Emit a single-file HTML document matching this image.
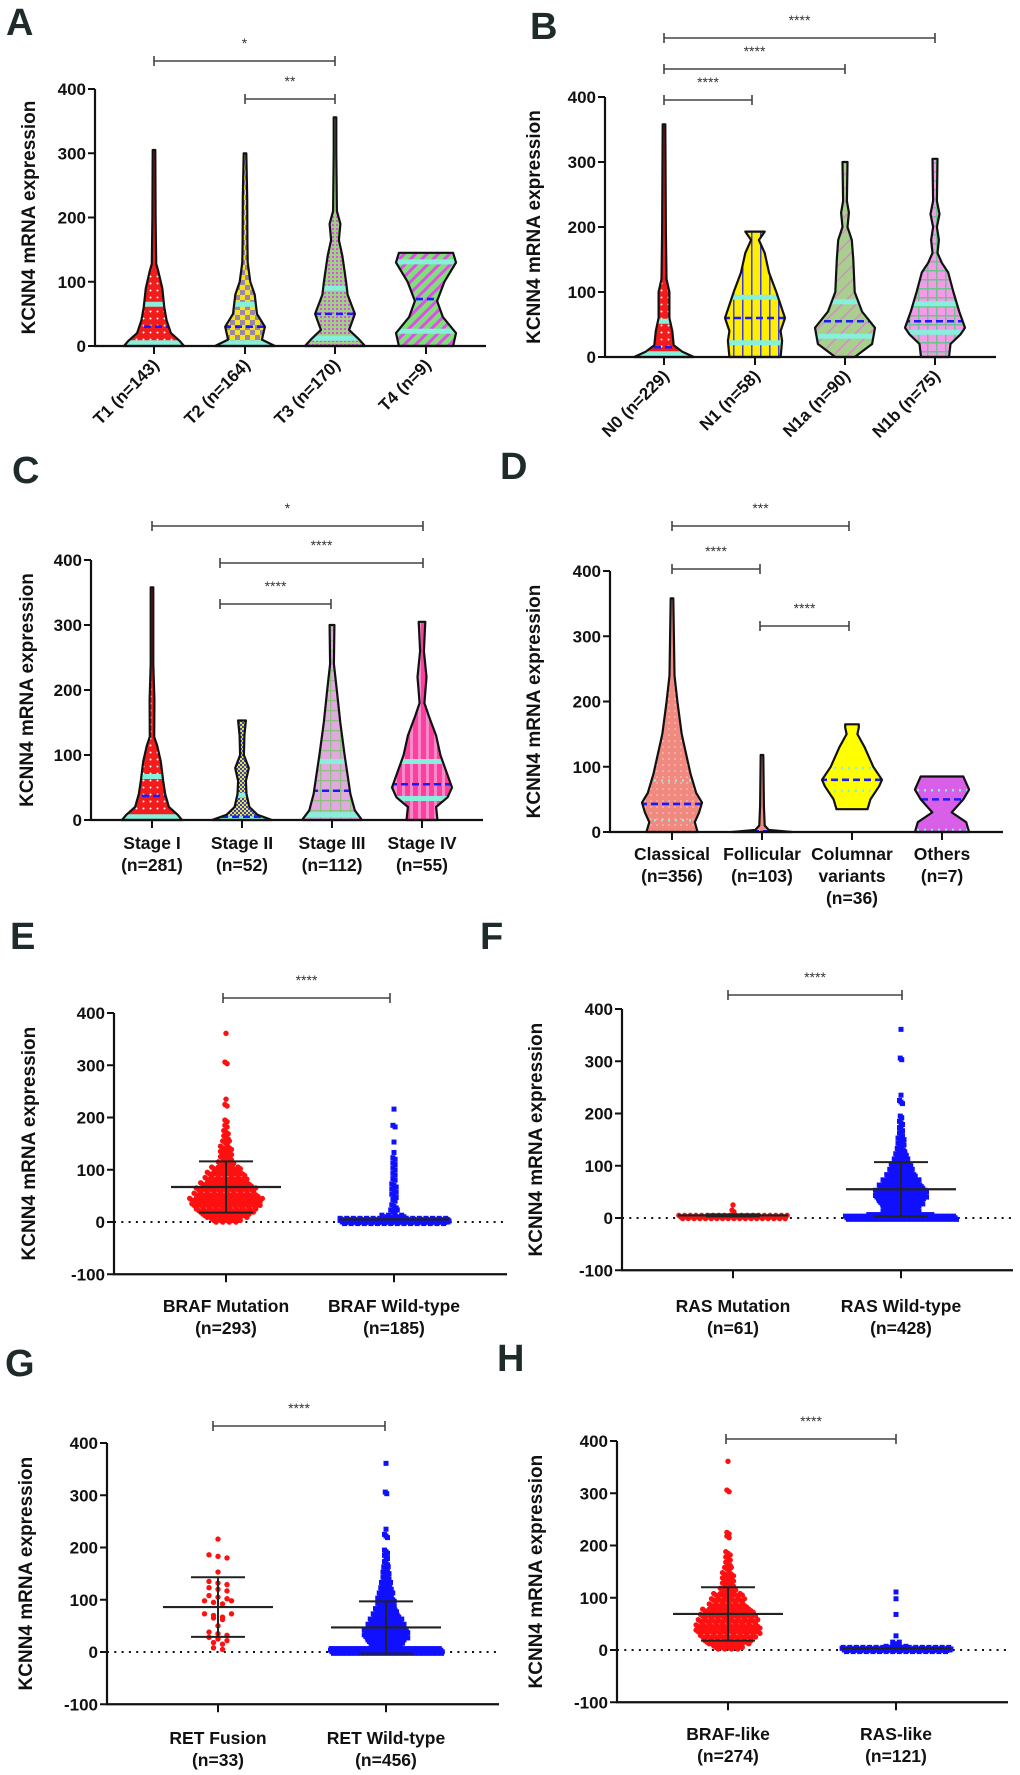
<!DOCTYPE html>
<html><head><meta charset="utf-8">
<style>
html,body{margin:0;padding:0;background:#fff;}
svg{display:block;font-family:"Liberation Sans",Arial,sans-serif;}
</style></head>
<body>
<svg id="fig" width="1020" height="1775" viewBox="0 0 1020 1775" xmlns="http://www.w3.org/2000/svg">
<defs>
<pattern id="pRedDots" width="7" height="7" patternUnits="userSpaceOnUse"><rect width="7" height="7" fill="#f21c1c"/><circle cx="3.5" cy="3.5" r="1" fill="#fff"/></pattern>
<pattern id="pYelCheck" width="10" height="10" patternUnits="userSpaceOnUse"><rect width="10" height="10" fill="#f4e21a"/><rect width="5" height="5" fill="#9b86a8"/><rect x="5" y="5" width="5" height="5" fill="#9b86a8"/></pattern>
<pattern id="pGreenMag" width="4" height="4" patternUnits="userSpaceOnUse"><rect width="4" height="4" fill="#9fd184"/><rect width="2" height="2" fill="#e04ee8"/></pattern>
<pattern id="pDiagGM" width="8" height="8" patternUnits="userSpaceOnUse" patternTransform="rotate(45)"><rect width="8" height="8" fill="#7fe07a"/><rect width="3" height="8" fill="#e04ee8"/></pattern>
<pattern id="pYelBlue" width="9" height="9" patternUnits="userSpaceOnUse"><rect width="9" height="9" fill="#ffee00"/><rect x="4" width="1.5" height="9" fill="#3b3be0"/></pattern>
<pattern id="pGreenDiag" width="10" height="10" patternUnits="userSpaceOnUse" patternTransform="rotate(45)"><rect width="10" height="10" fill="#a9cf8e"/><rect width="1.2" height="10" fill="#e27ad8"/></pattern>
<pattern id="pPinkGrid" width="9" height="9" patternUnits="userSpaceOnUse"><rect width="9" height="9" fill="#f39ae8"/><rect width="9" height="1.5" fill="#6cc38c"/><rect width="1.5" height="9" fill="#6cc38c"/></pattern>
<pattern id="pBlueYel" width="4" height="4" patternUnits="userSpaceOnUse"><rect width="4" height="4" fill="#f0e030"/><rect width="2" height="2" fill="#3040d0"/><rect x="2" y="2" width="2" height="2" fill="#3040d0"/></pattern>
<pattern id="pLilacGrid" width="10" height="10" patternUnits="userSpaceOnUse"><rect width="10" height="10" fill="#e2a8e0"/><rect width="10" height="1.3" fill="#8fbf80"/><rect width="1.3" height="10" fill="#8fbf80"/></pattern>
<pattern id="pMagV" width="8" height="8" patternUnits="userSpaceOnUse"><rect width="8" height="8" fill="#ff3fa0"/><rect x="2" width="3" height="8" fill="#f58ac8"/></pattern>
<pattern id="pSalmon" width="6" height="6" patternUnits="userSpaceOnUse"><rect width="6" height="6" fill="#f08a80"/><circle cx="3" cy="3" r="0.8" fill="#ffd0c8"/></pattern>
</defs>
</svg>
<script>
// ---------- Violin data ----------
const catsA = ["T1 (n=143)","T2 (n=164)","T3 (n=170)","T4 (n=9)"];
const profA1 = [[0,1],[8,0.85],[20,0.55],[40,0.4],[60,0.32],[90,0.25],[115,0.12],[128,0.04],[200,0.02],[305,0.01]];
const profA2 = [[0,1],[10,0.55],[30,0.65],[50,0.38],[80,0.3],[100,0.15],[130,0.06],[160,0.05],[230,0.04],[300,0.01]];
const profA3 = [[0,1],[10,0.8],[25,0.45],[50,0.65],[80,0.4],[100,0.35],[140,0.22],[165,0.1],[190,0.15],[210,0.03],[300,0.01],[356,0.01]];
const profA4 = [[0,0.9],[20,1],[45,0.55],[70,0.35],[100,0.6],[130,1],[145,0.9]];
const medA = [30,30,50,73];
const q1A = [5,5,12,23];
const q3A = [65,65,90,131];

const catsB = ["N0 (n=229)","N1 (n=58)","N1a (n=90)","N1b (n=75)"];
const profB1 = [[0,1],[8,0.6],[18,0.3],[40,0.25],[60,0.15],[100,0.15],[120,0.05],[190,0.03],[358,0.01]];
const profB2 = [[0,0.85],[25,0.9],[40,0.85],[60,1],[100,0.7],[130,0.45],[160,0.3],[180,0.1],[193,0.3]];
const profB3 = [[0,0.3],[20,0.9],[45,1],[70,0.55],[100,0.3],[150,0.25],[180,0.2],[200,0.05],[222,0.1],[240,0.03],[300,0.05]];
const profB4 = [[0,0.45],[20,0.5],[35,0.85],[45,1],[70,0.8],[100,0.6],[130,0.42],[145,0.2],[160,0.05],[180,0.1],[200,0.03],[220,0.12],[240,0.03],[305,0.05]];
const medB = [15,60,55,55];
const q1B = [5,22,32,38];
const q3B = [55,92,85,82];

const catsC = [["Stage I","(n=281)"],["Stage II","(n=52)"],["Stage III","(n=112)"],["Stage IV","(n=55)"]];
const profC1 = [[0,1],[8,0.85],[20,0.55],[40,0.42],[60,0.35],[90,0.27],[115,0.14],[128,0.04],[185,0.05],[240,0.01],[358,0.01]];
const profC2 = [[0,1],[8,0.5],[20,0.22],[40,0.12],[60,0.1],[80,0.2],[100,0.03],[130,0.05],[153,0.1]];
const profC3 = [[0,1],[15,0.75],[40,0.6],[70,0.5],[100,0.4],[150,0.25],[200,0.13],[240,0.03],[300,0.05]];
const profC4 = [[0,0.5],[20,0.45],[35,0.85],[50,1],[75,0.8],[100,0.6],[130,0.45],[160,0.2],[180,0.05],[220,0.12],[260,0.03],[305,0.08]];
const medC = [37,5,45,55];
const q1C = [5,2,8,33];
const q3C = [67,38,90,90];

const catsD = [["Classical","(n=356)"],["Follicular","(n=103)"],["Columnar","variants","(n=36)"],["Others","(n=7)"]];
const profD1 = [[0,0.85],[15,0.75],[30,0.9],[45,1],[60,0.8],[90,0.6],[110,0.5],[150,0.3],[200,0.15],[240,0.05],[300,0.03],[358,0.01]];
const profD2 = [[0,1],[3,0.2],[10,0.06],[40,0.03],[118,0.01]];
const profD3 = [[35,0.5],[50,0.6],[70,0.9],[80,1],[100,0.7],[130,0.4],[150,0.15],[160,0.2],[165,0.2]];
const profD4 = [[0,0.9],[15,0.8],[30,0.3],[50,0.7],[65,0.9],[85,0.7]];
const medD = [43,1,80,50];
const q1D = [18,0.5,63,3];
const q3D = [79,2,98,64];

// ---------- Scatter data: [bin value, count] ----------
const eMut = [[3,14],[12,22],[22,28],[32,32],[42,34],[52,30],[62,28],[72,24],[82,20],[92,18],[102,14],[112,8],[122,6],[132,6],[142,6],[152,4],[162,3],[172,3],[182,2],[192,2],[222,2],[232,1],[303,2],[358,1]];
const eWt = [[2,150],[10,12],[20,4],[30,3],[40,2],[50,3],[60,3],[70,3],[80,2],[90,2],[100,2],[110,2],[120,2],[130,1],[150,1],[182,2],[213,1]];
const eMean = [67,5]; const eSd = [49,0];
const fMut = [[2,58],[12,2],[22,1]];
const fWt = [[2,120],[10,25],[20,25],[30,30],[40,35],[50,35],[60,30],[70,25],[80,20],[90,16],[100,14],[110,10],[120,8],[130,6],[140,5],[150,5],[160,3],[170,3],[182,3],[192,2],[222,3],[232,1],[303,2],[358,1]];
const fMean = [5,55]; const fSd = [2,52];
const gFus = [[5,2],[15,2],[25,3],[35,3],[47,1],[62,2],[70,4],[95,4],[105,3],[120,3],[132,3],[150,1],[183,3],[213,1]];
const gWt = [[2,150],[10,20],[20,25],[30,30],[40,30],[50,25],[60,22],[70,18],[80,15],[90,12],[100,12],[110,10],[120,8],[130,7],[140,5],[150,5],[160,4],[170,3],[182,3],[192,3],[222,3],[232,1],[303,2],[358,1]];
const gMean = [86,47]; const gSd = [57,50];
const hBraf = [[5,14],[15,22],[25,26],[35,30],[45,30],[55,28],[65,26],[75,24],[85,18],[95,16],[105,14],[115,8],[125,6],[135,6],[145,6],[155,4],[165,3],[175,3],[185,3],[215,2],[222,2],[303,2],[358,1]];
const hRas = [[2,110],[12,4],[24,1],[65,1],[95,1],[108,1]];
const hMean = [69,3]; const hSd = [51,0];

const NS = "http://www.w3.org/2000/svg";
const svg = document.getElementById('fig');
function el(tag, attrs, parent){ const e=document.createElementNS(NS,tag); for(const k in attrs) e.setAttribute(k,attrs[k]); (parent||svg).appendChild(e); return e; }
function txt(s, attrs, parent){ const e=el('text',attrs,parent); e.textContent=s; return e; }

function panelLetter(L,x,y){
  const t=txt(L,{x:x,y:y,'font-size':38,'font-weight':'bold',fill:'#1f2b2b'});
  
  
}

function axes(g, ax, y0, ytop, right, ticks, scale, cxs, name){
  const yl=el('line',{x1:ax,y1:scale(ticks[ticks.length-1]),x2:ax,y2:scale(ticks[0]),stroke:'#111','stroke-width':2.2},g);
  
  
  const xl=el('line',{x1:ax-1,y1:scale(ticks[0]),x2:right,y2:scale(ticks[0]),stroke:'#111','stroke-width':2.2},g);
  
  
  ticks.forEach(v=>{
    el('line',{x1:ax-7,y1:scale(v),x2:ax,y2:scale(v),stroke:'#111','stroke-width':2},g);
    const t=txt(String(v),{x:ax-9,y:scale(v)+6,'text-anchor':'end','font-size':17,'font-weight':'bold',fill:'#111'},g);
    
    
  });
  cxs.forEach(cx=>el('line',{x1:cx,y1:scale(ticks[0]),x2:cx,y2:scale(ticks[0])+8,stroke:'#111','stroke-width':2},g));
}
function yTitle(g,x,yc,name){
  const t=txt('KCNN4 mRNA expression',{transform:`translate(${x},${yc}) rotate(-90)`,'text-anchor':'middle','font-size':19,'font-weight':'bold',fill:'#111'},g);
  
  
}
function bracket(g,x1,x2,y,stars,name){
  const p=el('path',{d:`M${x1},${y-5}V${y+5}M${x1},${y}H${x2}M${x2},${y-5}V${y+5}`,stroke:'#444','stroke-width':1.6,fill:'none'},g);
  
  
  const t=txt(stars,{x:(x1+x2)/2,y:y-13,'text-anchor':'middle','font-size':14,fill:'#333'},g);
  
  
}
let clipN=0;
function violin(g,cx,prof,maxW,scale,fill,med,q1,q3,dotted,name){
  const right=prof.map(p=>[cx+p[1]*maxW+1, scale(p[0])]);
  const left=prof.slice().reverse().map(p=>[cx-p[1]*maxW-1, scale(p[0])]);
  const pts=right.concat(left);
  const d='M'+pts.map(p=>p[0].toFixed(1)+','+p[1].toFixed(1)).join('L')+'Z';
  const id='vc'+(clipN++);
  const cp=el('clipPath',{id:id},g); el('path',{d:d},cp);
  const body=el('path',{d:d,fill:fill},g);
  
  
  const cg=el('g',{'clip-path':`url(#${id})`},g);
  const cyanAttr=dotted?{stroke:'#7ff2e6','stroke-width':2.5,'stroke-dasharray':'2,5'}:{stroke:'#86f0dc','stroke-width':5};
  [q1,q3].forEach(v=>{const l=el('line',Object.assign({x1:cx-maxW-3,x2:cx+maxW+3,y1:scale(v),y2:scale(v)},cyanAttr),cg);
    
    });
  const m=el('line',{x1:cx-maxW-3,x2:cx+maxW+3,y1:scale(med),y2:scale(med),stroke:'#1a1aff','stroke-width':2.6,'stroke-dasharray':'7,4'},cg);
  
  
  el('path',{d:d,fill:'none',stroke:'#111','stroke-width':2.2,'stroke-linejoin':'round'},g);
}
function swarm(g,cx,bins,scale,spacing,maxPer,color,square,name){
  bins.forEach(b=>{
    const v=b[0], n=b[1];
    const rows=Math.max(1,Math.ceil(n/maxPer));
    let k=0;
    for(let r=0;r<rows;r++){
      const inRow=Math.min(maxPer, n-k);
      const yv=v+(rows>1?(r-(rows-1)/2)*(6/rows):0);
      for(let i=0;i<inRow;i++){
        const off=(i-(inRow-1)/2)*spacing + (r%2?spacing/2:0);
        const x=cx+off, y=scale(yv)+((i%3)-1)*1.6;
        let m;
        if(square) m=el('rect',{x:x-2.5,y:y-2.5,width:5,height:5,fill:color},g);
        else m=el('circle',{cx:x,cy:y,r:2.7,fill:color},g);
        
        
        k++;
      }
    }
  });
}
function meanSd(g,cx,mean,sd,scale,name){
  const l=el('line',{x1:cx-55,x2:cx+55,y1:scale(mean),y2:scale(mean),stroke:'#222','stroke-width':2.2},g);
  
  
  if(sd>0){
    const p=el('path',{d:`M${cx-27},${scale(mean+sd)}H${cx+27}M${cx},${scale(mean+sd)}V${scale(mean-sd)}M${cx-27},${scale(mean-sd)}H${cx+27}`,stroke:'#222','stroke-width':2,fill:'none'},g);
    
    
  }
}

function violinPanel(cfg){
  const g=el('g',{});  
  const sc=v=>cfg.y0-v*(cfg.y0-cfg.ytop)/400;
  yTitle(g,cfg.titleX,(cfg.y0+cfg.ytop)/2,cfg.name);
  cfg.profs.forEach((p,i)=>violin(g,cfg.cx[i],p,29,sc,cfg.fills[i],cfg.med[i],cfg.q1[i],cfg.q3[i],cfg.dotted,cfg.name+'-violin-'+(i+1)));
  axes(g,cfg.ax,cfg.y0,cfg.ytop,cfg.right,[0,100,200,300,400],sc,cfg.cx,cfg.name);
  cfg.cats.forEach((c,i)=>{
    if(cfg.rotate){
      const t=txt(c,{transform:`translate(${cfg.cx[i]+6},${cfg.y0+20}) rotate(-45)`,'text-anchor':'end','font-size':17,'font-weight':'bold',fill:'#111'},g);
      
      
    } else {
      c.forEach((line,j)=>{
        const t=txt(line,{x:cfg.cx[i],y:cfg.labY+j*22,'text-anchor':'middle','font-size':17.5,'font-weight':'bold',fill:'#111'},g);
        
        
      });
    }
  });
  cfg.brackets.forEach(b=>bracket(g,b[0],b[1],b[2],b[3],cfg.name));
}

function scatterPanel(cfg){
  const g=el('g',{});  
  const sc=v=>cfg.y0-v*(cfg.y0-cfg.ytop)/400;
  yTitle(g,cfg.titleX,(sc(-100)+cfg.ytop)/2,cfg.name);
  const dl=el('line',{x1:cfg.ax,x2:cfg.right,y1:sc(0),y2:sc(0),stroke:'#111','stroke-width':2,'stroke-dasharray':'2,5.3'},g);
  
  
  swarm(g,cfg.cx[0],cfg.g1,sc,cfg.sp[0],cfg.mp[0],'#ff1010',false,cfg.name+'-group1');
  swarm(g,cfg.cx[1],cfg.g2,sc,cfg.sp[1],cfg.mp[1],'#1010ff',true,cfg.name+'-group2');
  cfg.means.forEach((m,i)=>meanSd(g,cfg.cx[i],m,cfg.sds[i],sc,cfg.name+'-group'+(i+1)));
  axes(g,cfg.ax,cfg.y0,cfg.ytop,cfg.right,[-100,0,100,200,300,400],sc,cfg.cx,cfg.name);
  cfg.cats.forEach((c,i)=>c.forEach((line,j)=>{
    const t=txt(line,{x:cfg.cx[i],y:cfg.labY+j*22,'text-anchor':'middle','font-size':17.5,'font-weight':'bold',fill:'#111'},g);
    
    
  }));
  bracket(g,cfg.br[0],cfg.br[1],cfg.br[2],'****',cfg.name);
}

panelLetter('A',6,35); panelLetter('B',530,39); panelLetter('C',12,483); panelLetter('D',500,479);
panelLetter('E',10,949); panelLetter('F',480,949); panelLetter('G',5,1376); panelLetter('H',497,1371);

violinPanel({name:'panel-a',ax:95,y0:346,ytop:89,right:486,cx:[154,245,335,426],titleX:35,
  profs:[profA1,profA2,profA3,profA4],fills:['url(#pRedDots)','url(#pYelCheck)','url(#pGreenMag)','url(#pDiagGM)'],
  med:medA,q1:q1A,q3:q3A,cats:catsA,rotate:true,
  brackets:[[154,335,61,'*'],[245,335,99,'**']]});
violinPanel({name:'panel-b',ax:605,y0:357,ytop:97,right:996,cx:[664,755,845,935],titleX:540,
  profs:[profB1,profB2,profB3,profB4],fills:['url(#pRedDots)','url(#pYelBlue)','url(#pGreenDiag)','url(#pPinkGrid)'],
  med:medB,q1:q1B,q3:q3B,cats:catsB,rotate:true,
  brackets:[[664,935,38,'****'],[664,845,69,'****'],[664,752,100,'****']]});
violinPanel({name:'panel-c',ax:91,y0:820,ytop:560,right:483,cx:[152,242,332,422],titleX:33,
  profs:[profC1,profC2,profC3,profC4],fills:['url(#pRedDots)','url(#pBlueYel)','url(#pLilacGrid)','url(#pMagV)'],
  med:medC,q1:q1C,q3:q3C,cats:catsC,rotate:false,labY:849,
  brackets:[[152,423,526,'*'],[220,423,563,'****'],[220,331,604,'****']]});
violinPanel({name:'panel-d',ax:610,y0:832,ytop:571,right:1003,cx:[672,762,852,942],titleX:540,
  profs:[profD1,profD2,profD3,profD4],fills:['url(#pSalmon)','#f08a80','#ffff00','#d860e8'],
  med:medD,q1:q1D,q3:q3D,cats:catsD,rotate:false,labY:860,dotted:true,
  brackets:[[672,849,526,'***'],[672,760,569,'****'],[760,849,626,'****']]});

scatterPanel({name:'panel-e',ax:114,y0:1222,ytop:1013,right:507,cx:[226,394],titleX:35,g1:eMut,g2:eWt,sp:[2.2,2.2],mp:[40,50],
  means:eMean,sds:eSd,cats:[["BRAF Mutation","(n=293)"],["BRAF Wild-type","(n=185)"]],labY:1312,br:[223,390,998]});
scatterPanel({name:'panel-f',ax:622,y0:1218,ytop:1009,right:1013,cx:[733,901],titleX:542,g1:fMut,g2:fWt,sp:[1.9,1.5],mp:[60,75],
  means:fMean,sds:fSd,cats:[["RAS Mutation","(n=61)"],["RAS Wild-type","(n=428)"]],labY:1312,br:[728,902,995]});
scatterPanel({name:'panel-g',ax:107,y0:1652,ytop:1443,right:499,cx:[218,386],titleX:32,g1:gFus,g2:gWt,sp:[9,1.5],mp:[6,75],
  means:gMean,sds:gSd,cats:[["RET Fusion","(n=33)"],["RET Wild-type","(n=456)"]],labY:1744,br:[213,385,1426]});
scatterPanel({name:'panel-h',ax:617,y0:1650,ytop:1441,right:1008,cx:[728,896],titleX:542,g1:hBraf,g2:hRas,sp:[2.2,2.2],mp:[40,50],
  means:hMean,sds:hSd,cats:[["BRAF-like","(n=274)"],["RAS-like","(n=121)"]],labY:1740,br:[726,896,1439]});
</script>
</body></html>
